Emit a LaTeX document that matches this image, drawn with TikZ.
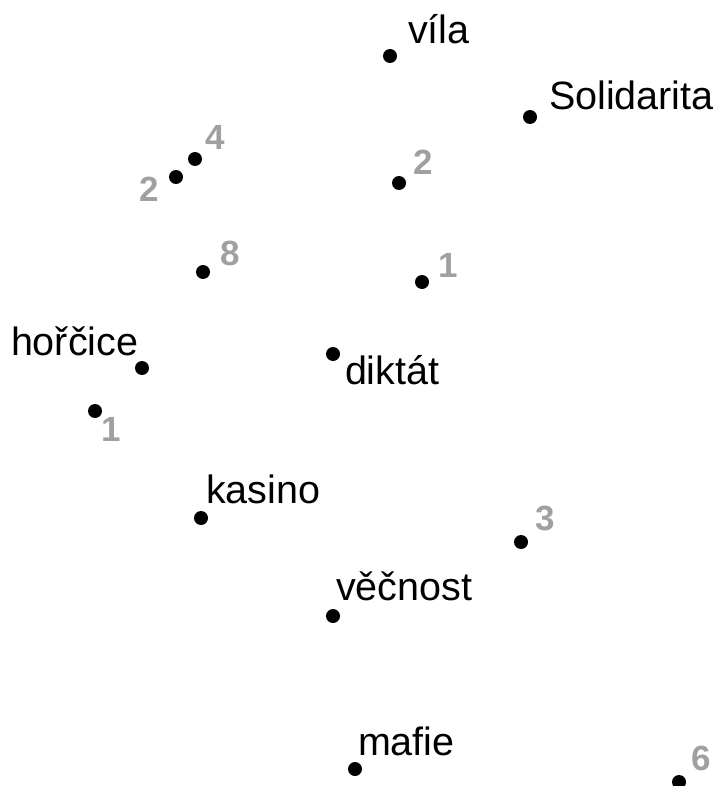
\documentclass[tikz,border=0pt]{standalone}
\usepackage{fontspec}
\setmainfont{Liberation Sans}
\newfontfamily\numfont{Liberation Sans}
\definecolor{numgray}{HTML}{A0A0A0}
\tikzset{
  pt/.style={circle,fill=black,inner sep=0pt,minimum size=14pt},
  word/.style={anchor=base west,inner sep=0pt,outer sep=0pt,font=\fontsize{39.5}{45}\selectfont},
  num/.style={anchor=base west,inner sep=0pt,outer sep=0pt,text=numgray,font=\numfont\bfseries\fontsize{35}{41}\selectfont}
}
\begin{document}
\begin{tikzpicture}[x=1pt,y=-1pt]
\useasboundingbox (0,0) rectangle (716,786);
% dots
\node[pt] (vila) at (390,56) {};
\node[pt] (soli) at (530,117) {};
\node[pt] (ga) at (399,183) {};
\node[pt] (gb) at (422,282) {};
\node[pt] (gc) at (195,159) {};
\node[pt] (gd) at (176,177) {};
\node[pt] (ge) at (203,272) {};
\node[pt] (horc) at (142,368) {};
\node[pt] (gf) at (95,411) {};
\node[pt] (dikt) at (333,354) {};
\node[pt] (kas) at (201,518) {};
\node[pt] (gg) at (521,542) {};
\node[pt] (vecn) at (333,616) {};
\node[pt] (maf) at (355,769) {};
\node[pt] (gh) at (679,782) {};
% words
\node[word] (tvila) at (408,44) {víla};
\node[word] (tsoli) at (549,110) {Solidarita};
\node[word] (thorc) at (11,355) {hořčice};
\node[word] (tdikt) at (345,384) {diktát};
\node[word] (tkas) at (206,503) {kasino};
\node[word] (tvecn) at (336,600) {věčnost};
\node[word] (tmaf) at (358,755) {mafie};
% numbers
\node[num] (na) at (413,175) {2};
\node[num] (nb) at (438,277) {1};
\node[num] (nc) at (205,150) {4};
\node[num] (nd) at (139,202) {2};
\node[num] (ne) at (220,265) {8};
\node[num] (nf) at (101,441) {1};
\node[num] (ng) at (535,530) {3};
\node[num] (nh) at (691,770) {6};
\end{tikzpicture}
\end{document}
